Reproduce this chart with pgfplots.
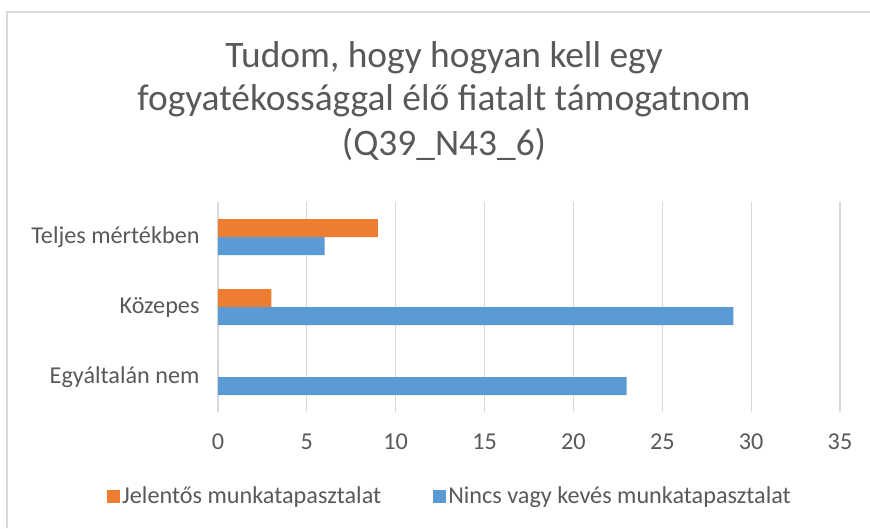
\documentclass[border=0pt]{standalone}
\usepackage{fontspec}
\setmainfont{Carlito}
\usepackage{pgfplots}
\pgfplotsset{compat=1.18}
\definecolor{cOrange}{HTML}{ED7D31}
\definecolor{cBlue}{HTML}{5B9BD5}
\definecolor{cText}{HTML}{595959}
\definecolor{cGrid}{HTML}{D9D9D9}
\begin{document}
\begin{tikzpicture}[x=1pt,y=1pt]
\path[use as bounding box] (0,0) rectangle (870,528);
\draw[cGrid, line width=1.2pt] (7,0) -- (7,516) -- (870,516);
\node[anchor=base, text=cText, font=\fontsize{37.4}{44}\selectfont, inner sep=0pt] at (444,460) {Tudom, hogy hogyan kell egy};
\node[anchor=base, text=cText, font=\fontsize{37.4}{44}\selectfont, inner sep=0pt] at (444,417) {fogyatékossággal élő fiatalt támogatnom};
\node[anchor=base, text=cText, font=\fontsize{37.4}{44}\selectfont, inner sep=0pt] at (444,372) {(Q39\_N43\_6)};
\begin{axis}[
  at={(218pt,116pt)}, anchor=south west,
  scale only axis, width=622pt, height=210pt,
  xmin=0, xmax=35, ymin=-0.5, ymax=2.5,
  xtick={0,5,...,35}, ytick={0,1,2},
  yticklabels={Egyáltalán nem, Közepes, Teljes mértékben},
  xmajorgrids, grid style={cGrid, line width=1.2pt},
  axis line style={draw=none},
  major tick length=0pt,
  tick label style={text=cText, font=\fontsize{24.2}{29}\selectfont},
  /pgf/number format/assume math mode=true,
  xticklabel style={anchor=north, yshift=-18pt},
  yticklabel style={anchor=east, xshift=-15pt},
  xbar, bar width=18pt,
  legend columns=2,
  legend style={at={(0.373,-0.40)}, anchor=center, draw=none, fill=none,
    text=cText, font=\fontsize{24.2}{29}\selectfont,
    /tikz/every even column/.append style={column sep=50pt}},
  legend image code/.code={\fill[#1] (-2pt,-6.5pt) rectangle (11pt,6.5pt);},
]
\addplot[fill=cOrange, draw=none, bar shift=9pt] coordinates {(0,0) (3,1) (9,2)};
\addplot[fill=cBlue, draw=none, bar shift=-9pt] coordinates {(23,0) (29,1) (6,2)};
\legend{Jelentős munkatapasztalat, Nincs vagy kevés munkatapasztalat}
\end{axis}
\end{tikzpicture}
\end{document}
